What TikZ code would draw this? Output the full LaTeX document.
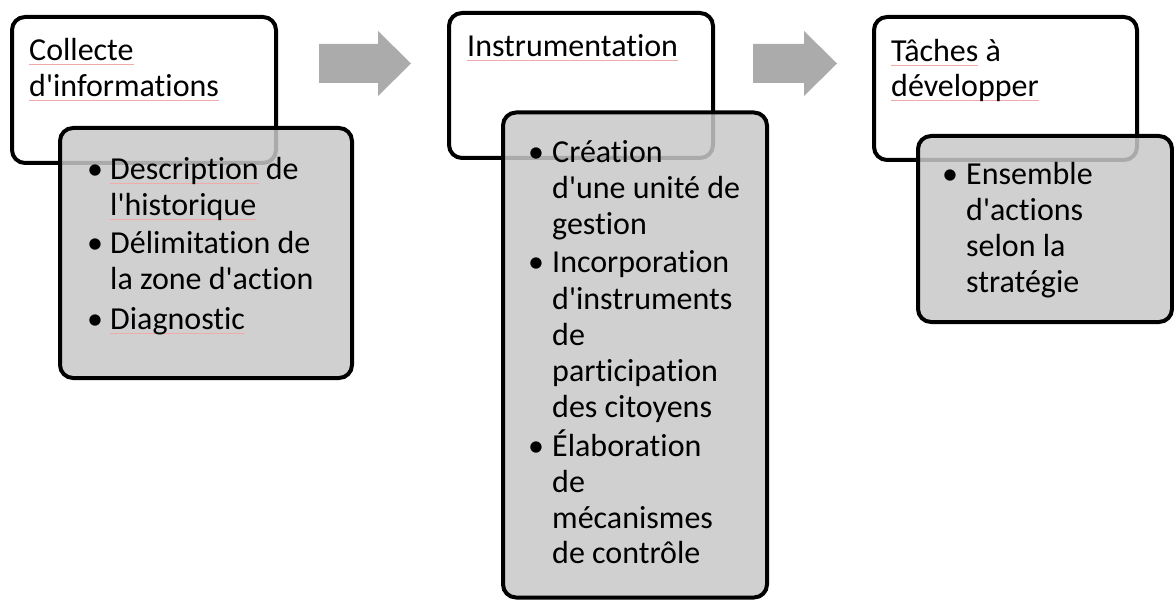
\documentclass[tikz,border=0pt]{standalone}
\usepackage{fontspec}
\setmainfont{Carlito}[Ligatures={CommonOff,TeXOff}]
\definecolor{boxgray}{RGB}{200,200,200}
\definecolor{arrowgray}{RGB}{171,171,171}
\definecolor{spell}{RGB}{240,170,170}
\newcommand\spellu[1]{\setbox0\hbox{#1}\rlap{\color{spell}\rule[-4pt]{\wd0}{0.7pt}}\box0\relax}
\newcommand\ap{\textquotesingle}
\begin{document}
\begin{tikzpicture}[x=1pt,y=-1pt,
  titlebox/.style={draw=black, line width=4pt, fill=white, rounded corners=13pt, inner sep=0pt},
  listbox/.style={draw=black, line width=4pt, fill=boxgray, fill opacity=0.85, draw opacity=1, rounded corners=13pt, inner sep=0pt},
  blockarrow/.style={fill=arrowgray, draw=none},
  txt/.style={anchor=base west, inner sep=0pt, font=\fontsize{32}{36}\selectfont},
  bul/.style={anchor=base, inner sep=0pt, font=\fontsize{32}{36}\selectfont}]
\useasboundingbox (0,0) rectangle (1174,601);
\fill[white] (0,0) rectangle (1174,601);

% block arrows
\fill[blockarrow] (319,44) -- (378,44) -- (378,31) -- (411,63.5) -- (378,96) -- (378,83) -- (319,83) -- cycle;
\fill[blockarrow] (753,44) -- (804,44) -- (804,31) -- (837,63.5) -- (804,96) -- (804,83) -- (753,83) -- cycle;

% stage 1
\node[titlebox, minimum width=264pt, minimum height=146pt] (t1) at (144,90) {};
\node[listbox, minimum width=292pt, minimum height=250pt] (l1) at (206,253) {};
\node[txt] (t1a) at (29,61) {\spellu{Collecte}};
\node[txt] (t1b) at (29,97) {\spellu{d\ap informations}};
\node[bul] (b1a) at (95,180) {•};
\node[txt] (l1a) at (110,180) {\spellu{Description} de};
\node[txt] (l1b) at (110,216) {\spellu{l\ap historique}};
\node[bul] (b1b) at (95,254) {•};
\node[txt] (l1c) at (110,254) {Délimitation de};
\node[txt] (l1d) at (110,290) {la zone d\ap action};
\node[bul] (b1c) at (95,330) {•};
\node[txt] (l1e) at (110,330) {\spellu{Diagnostic}};

% stage 2
\node[titlebox, minimum width=264pt, minimum height=145pt] (t2) at (581,85.5) {};
\node[listbox, minimum width=264pt, minimum height=485pt] (l2) at (635,355) {};
\node[txt] (t2a) at (467,57) {\spellu{Instrumentation}};
\node[bul] (b2a) at (536,163) {•};
\node[txt] (l2a) at (552,163) {Création};
\node[txt] (l2b) at (552,199) {d\ap une unité de};
\node[txt] (l2c) at (552,235) {gestion};
\node[bul] (b2b) at (536,273) {•};
\node[txt] (l2d) at (552,273) {Incorporation};
\node[txt] (l2e) at (552,309) {d\ap instruments};
\node[txt] (l2f) at (552,345) {de};
\node[txt] (l2g) at (552,381) {participation};
\node[txt] (l2h) at (552,417) {des citoyens};
\node[bul] (b2c) at (536,456) {•};
\node[txt] (l2i) at (552,456) {Élaboration};
\node[txt] (l2j) at (552,492) {de};
\node[txt] (l2k) at (552,528) {mécanismes};
\node[txt] (l2l) at (552,563) {de contrôle};

% stage 3
\node[titlebox, minimum width=263pt, minimum height=143pt] (t3) at (1005.5,88.5) {};
\node[listbox, minimum width=254pt, minimum height=186pt] (l3) at (1045,229) {};
\node[txt] (t3a) at (891,62) {\spellu{Tâches} à};
\node[txt] (t3b) at (891,97) {\spellu{développer}};
\node[bul] (b3a) at (950,185) {•};
\node[txt] (l3a) at (966,185) {Ensemble};
\node[txt] (l3b) at (966,221) {d\ap actions};
\node[txt] (l3c) at (966,257) {selon la};
\node[txt] (l3d) at (966,293) {stratégie};
\end{tikzpicture}
\end{document}
